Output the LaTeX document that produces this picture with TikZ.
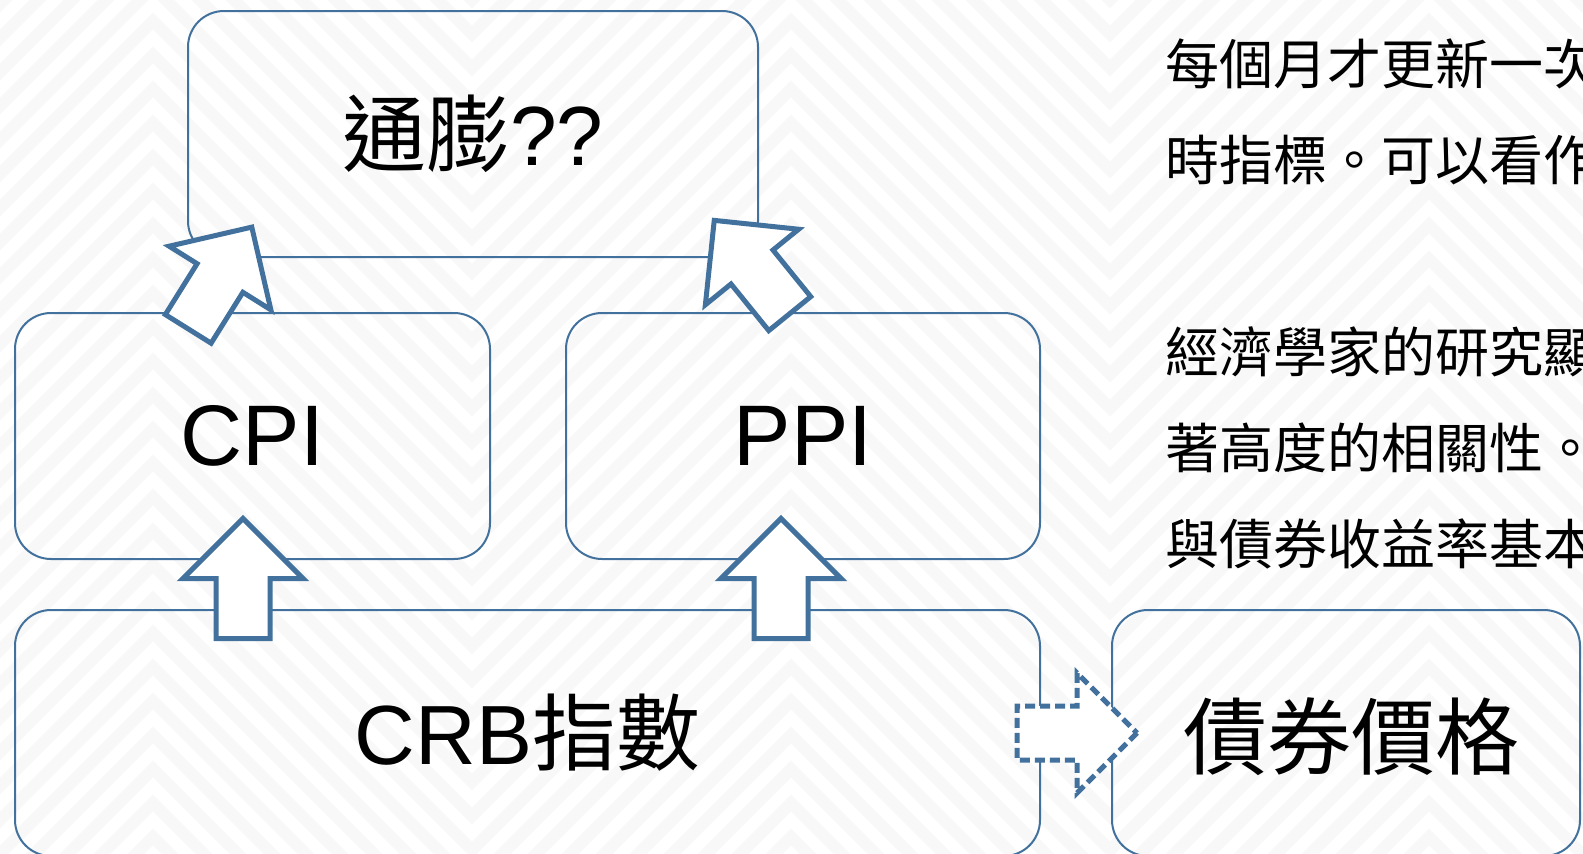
\documentclass[tikz,border=0pt]{standalone}
\usepackage{fontspec}
\setmainfont{Liberation Sans}
\newfontfamily\cjk{Noto Sans CJK TC}
\definecolor{boxblue}{RGB}{65,113,156}
\definecolor{zigzag}{RGB}{248,248,248}

\begin{document}
\begin{tikzpicture}[x=1pt,y=-1pt,
	box/.style={draw=boxblue,line width=2pt,rounded corners=36pt,minimum height=246pt,inner sep=0pt},
	band/.style={draw=zigzag,line width=12pt,line join=miter,miter limit=10},
	note/.style={anchor=base west,inner sep=0pt,font=\cjk\fontsize{54}{54}\selectfont},
	pics/blockup/.style={code={\draw[boxblue,fill=white,line width=5pt,line join=miter]
		(0,-60)--(60,0)--(27,0)--(27,60)--(-27,60)--(-27,0)--(-60,0)--cycle;}}]
	\useasboundingbox (0,0) rectangle (1583,854);
	\clip (0,0) rectangle (1583,854);
	% Chevron background
	\foreach \k in {0,...,36}{
		\pgfmathsetmacro{\c}{\k*34}
		\draw[band] (-166,\c)--(153,\c-319)--(472,\c)--(791,\c-319)--(1110,\c)--(1429,\c-319)--(1748,\c);
	}
	% Boxes
	\node[box,minimum width=570pt,font=\fontsize{84}{84}\selectfont] (infl) at (473,134) {{\cjk 通膨}??};
	\node[box,minimum width=475pt,font=\fontsize{86}{86}\selectfont] (cpi) at (252.5,436) {CPI};
	\node[box,minimum width=474pt,font=\fontsize{86}{86}\selectfont] (ppi) at (803,436) {PPI};
	\node[box,minimum width=1025pt,font=\fontsize{84}{84}\selectfont] (crb) at (527.5,733) {CRB{\cjk 指數}};
	\node[box,minimum width=468pt,font=\cjk\fontsize{84}{84}\selectfont,text depth=0pt] (bond) at (1346,733) {\hspace{10pt}債券價格};
	% Block arrows
	\pic (upcpi) at (243,578.5) {blockup};
	\pic (upppi) at (781,578.5) {blockup};
	\pic[rotate=-32] (cpiinfl) at (220,278) {blockup};
	\pic[rotate=39] (ppiinfl) at (752,267) {blockup};
	\pic[rotate=-90,dash pattern=on 10pt off 5pt] (crbbond) at (1077,733) {blockup};
	% Notes on the right
	\foreach \y/\t [count=\i] in {84/每個月才更新一次,180/時指標。可以看作,372/經濟學家的研究顯,468/著高度的相關性。,564/與債券收益率基本}
		\node[note] (note\i) at (1165,\y) {\t};
\end{tikzpicture}
\end{document}
